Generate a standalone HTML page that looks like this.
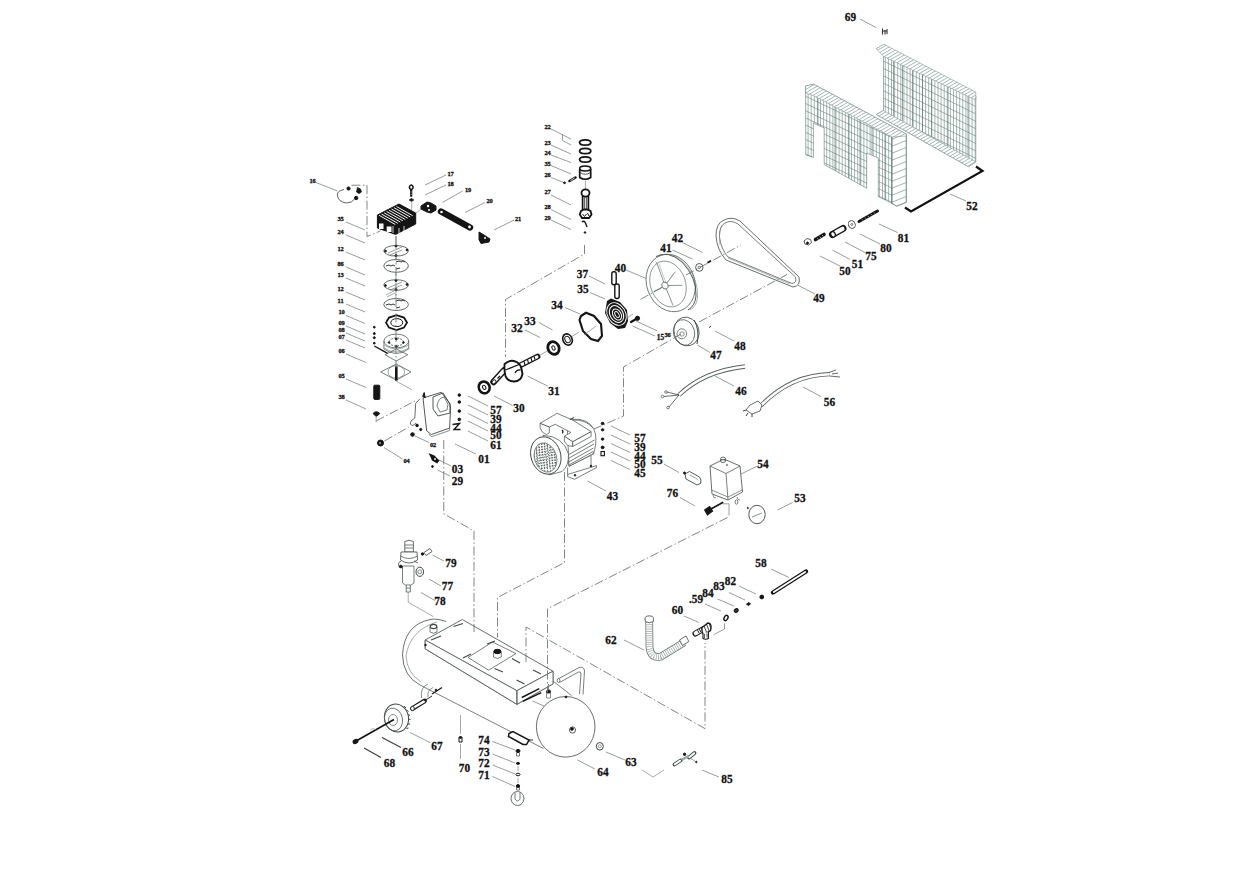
<!DOCTYPE html>
<html><head><meta charset="utf-8"><style>
html,body{margin:0;padding:0;background:#fff;}
svg{display:block;}
.lb{font-family:"Liberation Serif",serif;font-weight:bold;text-anchor:middle;dominant-baseline:central;fill:#111;stroke:#111;stroke-width:0.3;}
.ld{stroke:#8a948f;stroke-width:0.9;fill:none;}
.ds{stroke:#6f7a74;stroke-width:0.9;fill:none;stroke-dasharray:9 2.5 1.5 2.5;}
.ln{stroke:#3d4743;stroke-width:0.8;fill:none;}
.lt{stroke:#7e8a85;stroke-width:0.7;fill:none;}
.bk{fill:#161616;stroke:#161616;}
</style></head><body>
<svg width="1242" height="872" viewBox="0 0 1242 872">
<text transform="translate(850.5 17.2) scale(0.87 1)" font-size="13" class="lb">69</text>
<text transform="translate(972.0 206.2) scale(0.87 1)" font-size="13" class="lb">52</text>
<text transform="translate(903.5 237.7) scale(0.87 1)" font-size="13" class="lb">81</text>
<text transform="translate(886.0 247.7) scale(0.87 1)" font-size="13" class="lb">80</text>
<text transform="translate(871.0 256.2) scale(0.87 1)" font-size="13" class="lb">75</text>
<text transform="translate(857.5 264.2) scale(0.87 1)" font-size="13" class="lb">51</text>
<text transform="translate(845.0 270.7) scale(0.87 1)" font-size="13" class="lb">50</text>
<text transform="translate(819.0 298.2) scale(0.87 1)" font-size="13" class="lb">49</text>
<text transform="translate(740.0 345.7) scale(0.87 1)" font-size="13" class="lb">48</text>
<text transform="translate(716.0 355.2) scale(0.87 1)" font-size="13" class="lb">47</text>
<text transform="translate(677.5 238.2) scale(0.87 1)" font-size="13" class="lb">42</text>
<text transform="translate(666.0 247.7) scale(0.87 1)" font-size="13" class="lb">41</text>
<text transform="translate(620.5 267.7) scale(0.87 1)" font-size="13" class="lb">40</text>
<text transform="translate(582.5 274.2) scale(0.87 1)" font-size="13" class="lb">37</text>
<text transform="translate(583.0 289.2) scale(0.87 1)" font-size="13" class="lb">35</text>
<text transform="translate(557.0 304.7) scale(0.87 1)" font-size="13" class="lb">34</text>
<text transform="translate(530.0 320.7) scale(0.87 1)" font-size="13" class="lb">33</text>
<text transform="translate(517.0 327.7) scale(0.87 1)" font-size="13" class="lb">32</text>
<text transform="translate(554.0 391.2) scale(0.87 1)" font-size="13" class="lb">31</text>
<text transform="translate(519.0 408.2) scale(0.87 1)" font-size="13" class="lb">30</text>
<text transform="translate(741.0 391.2) scale(0.87 1)" font-size="13" class="lb">46</text>
<text transform="translate(829.5 402.2) scale(0.87 1)" font-size="13" class="lb">56</text>
<text transform="translate(640.0 438.2) scale(0.87 1)" font-size="13" class="lb">57</text>
<text transform="translate(640.0 447.2) scale(0.87 1)" font-size="13" class="lb">39</text>
<text transform="translate(640.0 455.7) scale(0.87 1)" font-size="13" class="lb">44</text>
<text transform="translate(640.0 464.2) scale(0.87 1)" font-size="13" class="lb">50</text>
<text transform="translate(640.0 472.7) scale(0.87 1)" font-size="13" class="lb">45</text>
<text transform="translate(657.0 460.2) scale(0.87 1)" font-size="13" class="lb">55</text>
<text transform="translate(763.0 464.2) scale(0.87 1)" font-size="13" class="lb">54</text>
<text transform="translate(672.5 492.7) scale(0.87 1)" font-size="13" class="lb">76</text>
<text transform="translate(800.0 498.2) scale(0.87 1)" font-size="13" class="lb">53</text>
<text transform="translate(612.5 495.7) scale(0.87 1)" font-size="13" class="lb">43</text>
<text transform="translate(496.0 410.2) scale(0.87 1)" font-size="13" class="lb">57</text>
<text transform="translate(496.0 419.2) scale(0.87 1)" font-size="13" class="lb">39</text>
<text transform="translate(496.0 427.7) scale(0.87 1)" font-size="13" class="lb">44</text>
<text transform="translate(496.0 435.2) scale(0.87 1)" font-size="13" class="lb">50</text>
<text transform="translate(496.0 445.2) scale(0.87 1)" font-size="13" class="lb">61</text>
<text transform="translate(484.0 459.2) scale(0.87 1)" font-size="13" class="lb">01</text>
<text transform="translate(457.5 469.2) scale(0.87 1)" font-size="13" class="lb">03</text>
<text transform="translate(457.5 480.7) scale(0.87 1)" font-size="13" class="lb">29</text>
<text transform="translate(451.0 562.7) scale(0.87 1)" font-size="13" class="lb">79</text>
<text transform="translate(447.5 586.2) scale(0.87 1)" font-size="13" class="lb">77</text>
<text transform="translate(440.0 600.7) scale(0.87 1)" font-size="13" class="lb">78</text>
<text transform="translate(761.0 563.2) scale(0.87 1)" font-size="13" class="lb">58</text>
<text transform="translate(730.5 580.7) scale(0.87 1)" font-size="13" class="lb">82</text>
<text transform="translate(719.0 586.2) scale(0.87 1)" font-size="13" class="lb">83</text>
<text transform="translate(708.0 593.2) scale(0.87 1)" font-size="13" class="lb">84</text>
<text transform="translate(696.0 599.2) scale(0.87 1)" font-size="13" class="lb">.59</text>
<text transform="translate(677.5 610.2) scale(0.87 1)" font-size="13" class="lb">60</text>
<text transform="translate(611.0 640.2) scale(0.87 1)" font-size="13" class="lb">62</text>
<text transform="translate(559.0 712.2) scale(0.87 1)" font-size="13" class="lb">65</text>
<text transform="translate(437.0 746.2) scale(0.87 1)" font-size="13" class="lb">67</text>
<text transform="translate(408.0 752.2) scale(0.87 1)" font-size="13" class="lb">66</text>
<text transform="translate(389.5 763.2) scale(0.87 1)" font-size="13" class="lb">68</text>
<text transform="translate(464.5 768.2) scale(0.87 1)" font-size="13" class="lb">70</text>
<text transform="translate(484.0 740.2) scale(0.87 1)" font-size="13" class="lb">74</text>
<text transform="translate(484.0 752.2) scale(0.87 1)" font-size="13" class="lb">73</text>
<text transform="translate(484.0 763.2) scale(0.87 1)" font-size="13" class="lb">72</text>
<text transform="translate(484.0 775.2) scale(0.87 1)" font-size="13" class="lb">71</text>
<text transform="translate(603.0 771.7) scale(0.87 1)" font-size="13" class="lb">64</text>
<text transform="translate(631.0 762.2) scale(0.87 1)" font-size="13" class="lb">63</text>
<text transform="translate(727.0 779.2) scale(0.87 1)" font-size="13" class="lb">85</text>
<text transform="translate(312.6 180.1) scale(0.92 1)" font-size="7" class="lb">16</text>
<text transform="translate(450.6 173.1) scale(0.92 1)" font-size="7" class="lb">17</text>
<text transform="translate(450.6 183.1) scale(0.92 1)" font-size="7" class="lb">18</text>
<text transform="translate(468.1 189.1) scale(0.92 1)" font-size="7" class="lb">19</text>
<text transform="translate(489.6 200.1) scale(0.92 1)" font-size="7" class="lb">20</text>
<text transform="translate(518.1 218.6) scale(0.92 1)" font-size="7" class="lb">21</text>
<text transform="translate(340.6 218.1) scale(0.92 1)" font-size="7" class="lb">35</text>
<text transform="translate(340.6 231.1) scale(0.92 1)" font-size="7" class="lb">24</text>
<text transform="translate(340.6 248.1) scale(0.92 1)" font-size="7" class="lb">12</text>
<text transform="translate(340.6 263.1) scale(0.92 1)" font-size="7" class="lb">86</text>
<text transform="translate(340.6 274.1) scale(0.92 1)" font-size="7" class="lb">13</text>
<text transform="translate(340.6 288.1) scale(0.92 1)" font-size="7" class="lb">12</text>
<text transform="translate(340.6 300.1) scale(0.92 1)" font-size="7" class="lb">11</text>
<text transform="translate(341.6 311.6) scale(0.92 1)" font-size="7" class="lb">10</text>
<text transform="translate(341.6 322.1) scale(0.92 1)" font-size="7" class="lb">09</text>
<text transform="translate(341.6 329.1) scale(0.92 1)" font-size="7" class="lb">08</text>
<text transform="translate(341.6 336.1) scale(0.92 1)" font-size="7" class="lb">07</text>
<text transform="translate(341.6 350.1) scale(0.92 1)" font-size="7" class="lb">06</text>
<text transform="translate(341.6 375.1) scale(0.92 1)" font-size="7" class="lb">05</text>
<text transform="translate(341.6 396.6) scale(0.92 1)" font-size="7" class="lb">38</text>
<text transform="translate(547.6 126.1) scale(0.92 1)" font-size="7" class="lb">22</text>
<text transform="translate(547.6 142.1) scale(0.92 1)" font-size="7" class="lb">23</text>
<text transform="translate(547.6 152.1) scale(0.92 1)" font-size="7" class="lb">24</text>
<text transform="translate(547.6 163.1) scale(0.92 1)" font-size="7" class="lb">35</text>
<text transform="translate(547.6 174.1) scale(0.92 1)" font-size="7" class="lb">26</text>
<text transform="translate(547.6 191.6) scale(0.92 1)" font-size="7" class="lb">27</text>
<text transform="translate(547.6 206.6) scale(0.92 1)" font-size="7" class="lb">28</text>
<text transform="translate(547.6 217.1) scale(0.92 1)" font-size="7" class="lb">29</text>
<text transform="translate(433.1 444.1) scale(0.92 1)" font-size="7" class="lb">02</text>
<text transform="translate(406.6 460.1) scale(0.92 1)" font-size="7" class="lb">04</text>
<text transform="translate(660.4 337.6) scale(0.92 1)" font-size="8" class="lb">15</text>
<text transform="translate(667.6 334.1) scale(0.92 1)" font-size="7" class="lb">36</text>
<path d="M316 182.5L337.5 191 M425 185L446 175 M425 195L446 185 M442.5 202.5L462.5 191 M465 212.5L485 202.5 M494 230L514 220 M551 129L571 139 M551 145L571 154 M551 155L571 162.5 M551 165.5L571 174 M551 177.5L564 182.5 M551 195L571 205 M551 209.5L571 219.5 M551 220L571 229.5 M682.5 242.5L702.5 252.5 M672.5 250L692.5 259 M626 270L647.5 279 M589 276L605 284 M590 292.5L605 299 M565 307.5L580 314 M797.5 285L815 294 M539 322.5L552.5 330 M525 330L540 337.5 M527.5 376L547.5 386 M494 396L512.5 405.5 M697.5 345L710 352.5 M715 331L734 341 M636 321L657.5 331 M632.5 326L655 336 M715 376L734 386 M664 464L679 472.5 M741 474L757.5 466 M680 497.5L695 506 M777.5 510L792.5 502.5 M587.5 481L606 491 M346 354L366 362.5 M346 379L366 387.5 M346 400L366 409 M415 436L429 442.5 M384 447.5L402.5 459 M439 460L451 466 M437.5 470L450 476 M476 454L455 444 M432.5 555L444 561 M429 579L441 586 M421 592.5L435 600.5 M532.5 701L551 709 M410 732.5L430 742.5 M492.5 741.5L515 750 M492.5 754L515 763 M492.5 765L515 774 M492.5 776.5L515 786.5 M577.5 760L595 769 M606 752L625 760 M702 770L719 777 M771 569L789 577.5 M739 586L756 594 M729 592.5L745 600 M717.5 599L734 606 M705 604L721 611 M684 616L699 622.5 M624 640L644 650 M860 19L876 27.5 M950 194L966 201 M803 387L821 396.5 M879 224L897.5 232.5 M860 234L880 244 M845 242L865 252.5 M832.5 250L850 259.5 M820 256L840 266 M346 222L365 230 M346 235L365 243 M346 252L365 260 M346 267L365 275 M346 278L365 286 M346 292L365 300 M346 304L365 312 M346 315.5L365 323.5 M346 326L365 334 M346 333L365 341 M346 340L365 348 M468 396L488 406 M468 405L488 415 M468 413.5L488 423.5 M468 421L488 431 M468 431L488 441 M611 426L630 435 M611 435L630 444 M611 443.5L630 452.5 M611 452L630 461 M611 460.5L630 469.5" class="ld"/>
<clipPath id="cb"><polygon points="883.5,50.6 975.8,96 975.8,161.8 968.5,166.7 876.3,114.5 883.5,110.6"/></clipPath>
<g clip-path="url(#cb)"><path d="M876.00 40V170M879.10 40V170M882.20 40V170M885.30 40V170M888.40 40V170M891.50 40V170M894.60 40V170M897.70 40V170M900.80 40V170M903.90 40V170M907.00 40V170M910.10 40V170M913.20 40V170M916.30 40V170M919.40 40V170M922.50 40V170M925.60 40V170M928.70 40V170M931.80 40V170M934.90 40V170M938.00 40V170M941.10 40V170M944.20 40V170M947.30 40V170M950.40 40V170M953.50 40V170M956.60 40V170M959.70 40V170M962.80 40V170M965.90 40V170M969.00 40V170M972.10 40V170M975.20 40V170M876 -16.60L976 32.60M876 -9.20L976 40.00M876 -1.80L976 47.40M876 5.60L976 54.80M876 13.00L976 62.20M876 20.40L976 69.60M876 27.80L976 77.00M876 35.20L976 84.40M876 42.60L976 91.80M876 50.00L976 99.20M876 57.40L976 106.60M876 64.80L976 114.00M876 72.20L976 121.40M876 79.60L976 128.80M876 87.00L976 136.20M876 94.40L976 143.60M876 101.80L976 151.00M876 109.20L976 158.40M876 116.60L976 165.80M876 124.00L976 173.20M876 131.40L976 180.60M876 138.80L976 188.00M876 146.20L976 195.40M876 153.60L976 202.80M876 161.00L976 210.20M876 168.40L976 217.60M876 175.80L976 225.00M876 183.20L976 232.40M876 190.60L976 239.80M876 198.00L976 247.20M876 205.40L976 254.60M876 212.80L976 262.00M876 220.20L976 269.40" stroke="#62807a" stroke-width="0.58" fill="none"/></g>
<polygon points="883.5,50.6 975.8,96 975.8,161.8 968.5,166.7 876.3,114.5 883.5,110.6" fill="none" stroke="#62807a" stroke-width="0.6"/>
<g clip-path="url(#cb)"><path d="M893.5 55.5V116.1M902.5 59.9V121.1M912.5 64.9V126.7M922.5 69.8V132.2M931.5 74.2V137.2M948 82.3V146.4M968 92.2V157.5" stroke="#587570" stroke-width="0.65" fill="none"/></g>
<polygon points="876.3,48.7 884,44.3 888,47 883.5,51" fill="none" stroke="#7d9691" stroke-width="0.5"/>
<clipPath id="cf"><polygon points="805.6,86 813.8,84.3 906.3,134 906.3,202.3 896.6,206.2 891.8,203.3 878.3,196.5 878.3,158 866.7,153 866.7,188.3 824.2,164.6 824.2,128 813.4,123 813.4,157.4 805.8,155"/></clipPath>
<g clip-path="url(#cf)"><path d="M805.00 80V210M808.10 80V210M811.20 80V210M814.30 80V210M817.40 80V210M820.50 80V210M823.60 80V210M826.70 80V210M829.80 80V210M832.90 80V210M836.00 80V210M839.10 80V210M842.20 80V210M845.30 80V210M848.40 80V210M851.50 80V210M854.60 80V210M857.70 80V210M860.80 80V210M863.90 80V210M867.00 80V210M870.10 80V210M873.20 80V210M876.30 80V210M879.40 80V210M882.50 80V210M885.60 80V210M888.70 80V210M891.80 80V210M805 31.21L892 72.80M805 38.41L892 80.00M805 45.61L892 87.20M805 52.81L892 94.40M805 60.01L892 101.60M805 67.21L892 108.80M805 74.41L892 116.00M805 81.61L892 123.20M805 88.81L892 130.40M805 96.01L892 137.60M805 103.21L892 144.80M805 110.41L892 152.00M805 117.61L892 159.20M805 124.81L892 166.40M805 132.01L892 173.60M805 139.21L892 180.80M805 146.41L892 188.00M805 153.61L892 195.20M805 160.81L892 202.40M805 168.01L892 209.60M805 175.21L892 216.80M805 182.41L892 224.00M805 189.61L892 231.20M805 196.81L892 238.40M805 204.01L892 245.60M805 211.21L892 252.80M805 218.41L892 260.00M805 225.61L892 267.20M805 232.81L892 274.40M805 240.01L892 281.60M805 247.21L892 288.80M805 254.41L892 296.00" stroke="#62807a" stroke-width="0.58" fill="none"/></g>
<polygon points="805.6,86 813.8,84.3 906.3,134 906.3,202.3 896.6,206.2 891.8,203.3 878.3,196.5 878.3,158 866.7,153 866.7,188.3 824.2,164.6 824.2,128 813.4,123 813.4,157.4 805.8,155" fill="none" stroke="#62807a" stroke-width="0.6"/>
<clipPath id="cs"><polygon points="891.8,135.7 906.3,134 906.3,202.3 896.6,206.2 891.8,203.3"/></clipPath>
<g clip-path="url(#cs)"><path d="M891.00 125V210M891 111.60L907 105.20M891 118.60L907 112.20M891 125.60L907 119.20M891 132.60L907 126.20M891 139.60L907 133.20M891 146.60L907 140.20M891 153.60L907 147.20M891 160.60L907 154.20M891 167.60L907 161.20M891 174.60L907 168.20M891 181.60L907 175.20M891 188.60L907 182.20M891 195.60L907 189.20M891 202.60L907 196.20M891 209.60L907 203.20M891 216.60L907 210.20" stroke="#62807a" stroke-width="0.6" fill="none"/></g>
<polygon points="891.8,135.7 906.3,134 906.3,202.3 896.6,206.2 891.8,203.3" fill="none" stroke="#62807a" stroke-width="0.6"/>
<g clip-path="url(#cf)"><path d="M818 91.9V205M835 100.1V205M849 106.7V205M860 112.0V205M872 117.7V205M885 124.0V205M891.8 127.2V205" stroke="#587570" stroke-width="0.65" fill="none"/></g>
<polygon points="805.6,86 813.8,84.3 906.3,134 906.3,136 891.8,137 813.4,95.5 805.6,93" fill="#fff"/><clipPath id="hb1"><polygon points="805.6,86 813.8,84.3 906.3,134 906.3,136 891.8,137 813.4,95.5 805.6,93"/></clipPath><g clip-path="url(#hb1)"><path d="M285.60 228.65l400.0 -236.0M291.40 228.65l400.0 -236.0M297.20 228.65l400.0 -236.0M303.00 228.65l400.0 -236.0M308.80 228.65l400.0 -236.0M314.60 228.65l400.0 -236.0M320.40 228.65l400.0 -236.0M326.20 228.65l400.0 -236.0M332.00 228.65l400.0 -236.0M337.80 228.65l400.0 -236.0M343.60 228.65l400.0 -236.0M349.40 228.65l400.0 -236.0M355.20 228.65l400.0 -236.0M361.00 228.65l400.0 -236.0M366.80 228.65l400.0 -236.0M372.60 228.65l400.0 -236.0M378.40 228.65l400.0 -236.0M384.20 228.65l400.0 -236.0M390.00 228.65l400.0 -236.0M395.80 228.65l400.0 -236.0M401.60 228.65l400.0 -236.0M407.40 228.65l400.0 -236.0M413.20 228.65l400.0 -236.0M419.00 228.65l400.0 -236.0M424.80 228.65l400.0 -236.0M430.60 228.65l400.0 -236.0M436.40 228.65l400.0 -236.0M442.20 228.65l400.0 -236.0M448.00 228.65l400.0 -236.0M453.80 228.65l400.0 -236.0M459.60 228.65l400.0 -236.0M465.40 228.65l400.0 -236.0M471.20 228.65l400.0 -236.0M477.00 228.65l400.0 -236.0M482.80 228.65l400.0 -236.0M488.60 228.65l400.0 -236.0M494.40 228.65l400.0 -236.0M500.20 228.65l400.0 -236.0M506.00 228.65l400.0 -236.0M511.80 228.65l400.0 -236.0M517.60 228.65l400.0 -236.0M523.40 228.65l400.0 -236.0M529.20 228.65l400.0 -236.0M535.00 228.65l400.0 -236.0M540.80 228.65l400.0 -236.0M546.60 228.65l400.0 -236.0M552.40 228.65l400.0 -236.0M558.20 228.65l400.0 -236.0M564.00 228.65l400.0 -236.0M569.80 228.65l400.0 -236.0M575.60 228.65l400.0 -236.0M581.40 228.65l400.0 -236.0M587.20 228.65l400.0 -236.0M593.00 228.65l400.0 -236.0M598.80 228.65l400.0 -236.0M604.60 228.65l400.0 -236.0M610.40 228.65l400.0 -236.0M616.20 228.65l400.0 -236.0M622.00 228.65l400.0 -236.0M627.80 228.65l400.0 -236.0M633.60 228.65l400.0 -236.0M639.40 228.65l400.0 -236.0M645.20 228.65l400.0 -236.0M651.00 228.65l400.0 -236.0M656.80 228.65l400.0 -236.0M662.60 228.65l400.0 -236.0M668.40 228.65l400.0 -236.0M674.20 228.65l400.0 -236.0M680.00 228.65l400.0 -236.0M685.80 228.65l400.0 -236.0M691.60 228.65l400.0 -236.0M697.40 228.65l400.0 -236.0M703.20 228.65l400.0 -236.0M709.00 228.65l400.0 -236.0M714.80 228.65l400.0 -236.0M720.60 228.65l400.0 -236.0M726.40 228.65l400.0 -236.0M732.20 228.65l400.0 -236.0M738.00 228.65l400.0 -236.0M743.80 228.65l400.0 -236.0M749.60 228.65l400.0 -236.0M755.40 228.65l400.0 -236.0M761.20 228.65l400.0 -236.0M767.00 228.65l400.0 -236.0M772.80 228.65l400.0 -236.0M778.60 228.65l400.0 -236.0M784.40 228.65l400.0 -236.0M790.20 228.65l400.0 -236.0M796.00 228.65l400.0 -236.0M801.80 228.65l400.0 -236.0M807.60 228.65l400.0 -236.0M813.40 228.65l400.0 -236.0M819.20 228.65l400.0 -236.0M825.00 228.65l400.0 -236.0M830.80 228.65l400.0 -236.0M836.60 228.65l400.0 -236.0M842.40 228.65l400.0 -236.0M848.20 228.65l400.0 -236.0M854.00 228.65l400.0 -236.0M859.80 228.65l400.0 -236.0M865.60 228.65l400.0 -236.0M871.40 228.65l400.0 -236.0M877.20 228.65l400.0 -236.0M883.00 228.65l400.0 -236.0M888.80 228.65l400.0 -236.0M894.60 228.65l400.0 -236.0M900.40 228.65l400.0 -236.0M906.20 228.65l400.0 -236.0M912.00 228.65l400.0 -236.0M917.80 228.65l400.0 -236.0M923.60 228.65l400.0 -236.0M929.40 228.65l400.0 -236.0M935.20 228.65l400.0 -236.0M941.00 228.65l400.0 -236.0M946.80 228.65l400.0 -236.0M952.60 228.65l400.0 -236.0M958.40 228.65l400.0 -236.0M964.20 228.65l400.0 -236.0M970.00 228.65l400.0 -236.0M975.80 228.65l400.0 -236.0M981.60 228.65l400.0 -236.0M987.40 228.65l400.0 -236.0M993.20 228.65l400.0 -236.0M999.00 228.65l400.0 -236.0M1004.80 228.65l400.0 -236.0M1010.60 228.65l400.0 -236.0M1016.40 228.65l400.0 -236.0M1022.20 228.65l400.0 -236.0" stroke="#6d8884" stroke-width="0.6" fill="none"/></g><polygon points="805.6,86 813.8,84.3 906.3,134 906.3,136 891.8,137 813.4,95.5 805.6,93" fill="none" stroke="#6d8884" stroke-width="0.5"/>
<polygon points="876.3,48.7 884,44.3 975.8,92 975.8,100 883.5,56.5" fill="#fff"/><clipPath id="hb2"><polygon points="876.3,48.7 884,44.3 975.8,92 975.8,100 883.5,56.5"/></clipPath><g clip-path="url(#hb2)"><path d="M356.30 190.15l400.0 -236.0M362.10 190.15l400.0 -236.0M367.90 190.15l400.0 -236.0M373.70 190.15l400.0 -236.0M379.50 190.15l400.0 -236.0M385.30 190.15l400.0 -236.0M391.10 190.15l400.0 -236.0M396.90 190.15l400.0 -236.0M402.70 190.15l400.0 -236.0M408.50 190.15l400.0 -236.0M414.30 190.15l400.0 -236.0M420.10 190.15l400.0 -236.0M425.90 190.15l400.0 -236.0M431.70 190.15l400.0 -236.0M437.50 190.15l400.0 -236.0M443.30 190.15l400.0 -236.0M449.10 190.15l400.0 -236.0M454.90 190.15l400.0 -236.0M460.70 190.15l400.0 -236.0M466.50 190.15l400.0 -236.0M472.30 190.15l400.0 -236.0M478.10 190.15l400.0 -236.0M483.90 190.15l400.0 -236.0M489.70 190.15l400.0 -236.0M495.50 190.15l400.0 -236.0M501.30 190.15l400.0 -236.0M507.10 190.15l400.0 -236.0M512.90 190.15l400.0 -236.0M518.70 190.15l400.0 -236.0M524.50 190.15l400.0 -236.0M530.30 190.15l400.0 -236.0M536.10 190.15l400.0 -236.0M541.90 190.15l400.0 -236.0M547.70 190.15l400.0 -236.0M553.50 190.15l400.0 -236.0M559.30 190.15l400.0 -236.0M565.10 190.15l400.0 -236.0M570.90 190.15l400.0 -236.0M576.70 190.15l400.0 -236.0M582.50 190.15l400.0 -236.0M588.30 190.15l400.0 -236.0M594.10 190.15l400.0 -236.0M599.90 190.15l400.0 -236.0M605.70 190.15l400.0 -236.0M611.50 190.15l400.0 -236.0M617.30 190.15l400.0 -236.0M623.10 190.15l400.0 -236.0M628.90 190.15l400.0 -236.0M634.70 190.15l400.0 -236.0M640.50 190.15l400.0 -236.0M646.30 190.15l400.0 -236.0M652.10 190.15l400.0 -236.0M657.90 190.15l400.0 -236.0M663.70 190.15l400.0 -236.0M669.50 190.15l400.0 -236.0M675.30 190.15l400.0 -236.0M681.10 190.15l400.0 -236.0M686.90 190.15l400.0 -236.0M692.70 190.15l400.0 -236.0M698.50 190.15l400.0 -236.0M704.30 190.15l400.0 -236.0M710.10 190.15l400.0 -236.0M715.90 190.15l400.0 -236.0M721.70 190.15l400.0 -236.0M727.50 190.15l400.0 -236.0M733.30 190.15l400.0 -236.0M739.10 190.15l400.0 -236.0M744.90 190.15l400.0 -236.0M750.70 190.15l400.0 -236.0M756.50 190.15l400.0 -236.0M762.30 190.15l400.0 -236.0M768.10 190.15l400.0 -236.0M773.90 190.15l400.0 -236.0M779.70 190.15l400.0 -236.0M785.50 190.15l400.0 -236.0M791.30 190.15l400.0 -236.0M797.10 190.15l400.0 -236.0M802.90 190.15l400.0 -236.0M808.70 190.15l400.0 -236.0M814.50 190.15l400.0 -236.0M820.30 190.15l400.0 -236.0M826.10 190.15l400.0 -236.0M831.90 190.15l400.0 -236.0M837.70 190.15l400.0 -236.0M843.50 190.15l400.0 -236.0M849.30 190.15l400.0 -236.0M855.10 190.15l400.0 -236.0M860.90 190.15l400.0 -236.0M866.70 190.15l400.0 -236.0M872.50 190.15l400.0 -236.0M878.30 190.15l400.0 -236.0M884.10 190.15l400.0 -236.0M889.90 190.15l400.0 -236.0M895.70 190.15l400.0 -236.0M901.50 190.15l400.0 -236.0M907.30 190.15l400.0 -236.0M913.10 190.15l400.0 -236.0M918.90 190.15l400.0 -236.0M924.70 190.15l400.0 -236.0M930.50 190.15l400.0 -236.0M936.30 190.15l400.0 -236.0M942.10 190.15l400.0 -236.0M947.90 190.15l400.0 -236.0M953.70 190.15l400.0 -236.0M959.50 190.15l400.0 -236.0M965.30 190.15l400.0 -236.0M971.10 190.15l400.0 -236.0M976.90 190.15l400.0 -236.0M982.70 190.15l400.0 -236.0M988.50 190.15l400.0 -236.0M994.30 190.15l400.0 -236.0M1000.10 190.15l400.0 -236.0M1005.90 190.15l400.0 -236.0M1011.70 190.15l400.0 -236.0M1017.50 190.15l400.0 -236.0M1023.30 190.15l400.0 -236.0M1029.10 190.15l400.0 -236.0M1034.90 190.15l400.0 -236.0M1040.70 190.15l400.0 -236.0M1046.50 190.15l400.0 -236.0M1052.30 190.15l400.0 -236.0M1058.10 190.15l400.0 -236.0M1063.90 190.15l400.0 -236.0M1069.70 190.15l400.0 -236.0M1075.50 190.15l400.0 -236.0M1081.30 190.15l400.0 -236.0M1087.10 190.15l400.0 -236.0M1092.90 190.15l400.0 -236.0" stroke="#6d8884" stroke-width="0.6" fill="none"/></g><polygon points="876.3,48.7 884,44.3 975.8,92 975.8,100 883.5,56.5" fill="none" stroke="#6d8884" stroke-width="0.5"/>
<polygon points="883.5,110.6 975.8,161.8 968.5,166.7 876.3,114.5" fill="#fff"/><clipPath id="hb3"><polygon points="883.5,110.6 975.8,161.8 968.5,166.7 876.3,114.5"/></clipPath><g clip-path="url(#hb3)"><path d="M356.30 256.65l400.0 -236.0M362.10 256.65l400.0 -236.0M367.90 256.65l400.0 -236.0M373.70 256.65l400.0 -236.0M379.50 256.65l400.0 -236.0M385.30 256.65l400.0 -236.0M391.10 256.65l400.0 -236.0M396.90 256.65l400.0 -236.0M402.70 256.65l400.0 -236.0M408.50 256.65l400.0 -236.0M414.30 256.65l400.0 -236.0M420.10 256.65l400.0 -236.0M425.90 256.65l400.0 -236.0M431.70 256.65l400.0 -236.0M437.50 256.65l400.0 -236.0M443.30 256.65l400.0 -236.0M449.10 256.65l400.0 -236.0M454.90 256.65l400.0 -236.0M460.70 256.65l400.0 -236.0M466.50 256.65l400.0 -236.0M472.30 256.65l400.0 -236.0M478.10 256.65l400.0 -236.0M483.90 256.65l400.0 -236.0M489.70 256.65l400.0 -236.0M495.50 256.65l400.0 -236.0M501.30 256.65l400.0 -236.0M507.10 256.65l400.0 -236.0M512.90 256.65l400.0 -236.0M518.70 256.65l400.0 -236.0M524.50 256.65l400.0 -236.0M530.30 256.65l400.0 -236.0M536.10 256.65l400.0 -236.0M541.90 256.65l400.0 -236.0M547.70 256.65l400.0 -236.0M553.50 256.65l400.0 -236.0M559.30 256.65l400.0 -236.0M565.10 256.65l400.0 -236.0M570.90 256.65l400.0 -236.0M576.70 256.65l400.0 -236.0M582.50 256.65l400.0 -236.0M588.30 256.65l400.0 -236.0M594.10 256.65l400.0 -236.0M599.90 256.65l400.0 -236.0M605.70 256.65l400.0 -236.0M611.50 256.65l400.0 -236.0M617.30 256.65l400.0 -236.0M623.10 256.65l400.0 -236.0M628.90 256.65l400.0 -236.0M634.70 256.65l400.0 -236.0M640.50 256.65l400.0 -236.0M646.30 256.65l400.0 -236.0M652.10 256.65l400.0 -236.0M657.90 256.65l400.0 -236.0M663.70 256.65l400.0 -236.0M669.50 256.65l400.0 -236.0M675.30 256.65l400.0 -236.0M681.10 256.65l400.0 -236.0M686.90 256.65l400.0 -236.0M692.70 256.65l400.0 -236.0M698.50 256.65l400.0 -236.0M704.30 256.65l400.0 -236.0M710.10 256.65l400.0 -236.0M715.90 256.65l400.0 -236.0M721.70 256.65l400.0 -236.0M727.50 256.65l400.0 -236.0M733.30 256.65l400.0 -236.0M739.10 256.65l400.0 -236.0M744.90 256.65l400.0 -236.0M750.70 256.65l400.0 -236.0M756.50 256.65l400.0 -236.0M762.30 256.65l400.0 -236.0M768.10 256.65l400.0 -236.0M773.90 256.65l400.0 -236.0M779.70 256.65l400.0 -236.0M785.50 256.65l400.0 -236.0M791.30 256.65l400.0 -236.0M797.10 256.65l400.0 -236.0M802.90 256.65l400.0 -236.0M808.70 256.65l400.0 -236.0M814.50 256.65l400.0 -236.0M820.30 256.65l400.0 -236.0M826.10 256.65l400.0 -236.0M831.90 256.65l400.0 -236.0M837.70 256.65l400.0 -236.0M843.50 256.65l400.0 -236.0M849.30 256.65l400.0 -236.0M855.10 256.65l400.0 -236.0M860.90 256.65l400.0 -236.0M866.70 256.65l400.0 -236.0M872.50 256.65l400.0 -236.0M878.30 256.65l400.0 -236.0M884.10 256.65l400.0 -236.0M889.90 256.65l400.0 -236.0M895.70 256.65l400.0 -236.0M901.50 256.65l400.0 -236.0M907.30 256.65l400.0 -236.0M913.10 256.65l400.0 -236.0M918.90 256.65l400.0 -236.0M924.70 256.65l400.0 -236.0M930.50 256.65l400.0 -236.0M936.30 256.65l400.0 -236.0M942.10 256.65l400.0 -236.0M947.90 256.65l400.0 -236.0M953.70 256.65l400.0 -236.0M959.50 256.65l400.0 -236.0M965.30 256.65l400.0 -236.0M971.10 256.65l400.0 -236.0M976.90 256.65l400.0 -236.0M982.70 256.65l400.0 -236.0M988.50 256.65l400.0 -236.0M994.30 256.65l400.0 -236.0M1000.10 256.65l400.0 -236.0M1005.90 256.65l400.0 -236.0M1011.70 256.65l400.0 -236.0M1017.50 256.65l400.0 -236.0M1023.30 256.65l400.0 -236.0M1029.10 256.65l400.0 -236.0M1034.90 256.65l400.0 -236.0M1040.70 256.65l400.0 -236.0M1046.50 256.65l400.0 -236.0M1052.30 256.65l400.0 -236.0M1058.10 256.65l400.0 -236.0M1063.90 256.65l400.0 -236.0M1069.70 256.65l400.0 -236.0M1075.50 256.65l400.0 -236.0M1081.30 256.65l400.0 -236.0M1087.10 256.65l400.0 -236.0M1092.90 256.65l400.0 -236.0" stroke="#6d8884" stroke-width="0.6" fill="none"/></g><polygon points="883.5,110.6 975.8,161.8 968.5,166.7 876.3,114.5" fill="none" stroke="#6d8884" stroke-width="0.5"/>
<polyline points="905,207.5 911,211.5 982.5,171 976,166.5" fill="none" stroke="#111" stroke-width="2.2"/>
<path d="M882.5 28.5v6 M885 30v4.5 M887 29v5 M882.5 31h5" stroke="#333" stroke-width="1.1"/>
<path d="M344 189.5 Q337 191 337.3 195 Q338 202 346.5 203 Q352 203 354.6 199" fill="none" stroke="#4a5550" stroke-width="0.9"/>
<circle cx="348.5" cy="188.5" r="1.6" class="bk"/>
<path d="M357.5 187.5 l3 1.5 l1 3 l-2.5 1.5 l-2.5-1.5z" class="bk" stroke-width="0.8"/>
<circle cx="356.2" cy="198" r="1.7" class="bk"/>
<path d="M377.4 215 L399 204 L415.7 213 L415.7 224 L395.6 234.4 L377.4 228 Z" fill="#141414" stroke="#141414" stroke-width="1"/>
<path d="M379.1 215.3 l16.2 9.2 M381.6 214.1 l16.2 9.2 M384.1 212.8 l16.2 9.2 M386.6 211.5 l16.2 9.2 M389.1 210.3 l16.2 9.2 M391.5 209.0 l16.2 9.2 M394.0 207.7 l16.2 9.2 M396.5 206.5 l16.2 9.2" stroke="#fff" stroke-width="0.95" fill="none"/>
<path d="M379 223.5h4.5v5.5h-4.5z M386.7 226.4h4.8v5.6h-4.8z" fill="#fff"/>
<path d="M393 226 v7 M399 228 v6 M404 226 v6" stroke="#fff" stroke-width="0.8"/>
<path d="M411.2 196.5 V189 M409.5 186.5 Q411.2 183.5 413 186.5 Q413.5 189 411.2 189.5 Q409 189 409.5 186.5 Z" fill="#fff" stroke="#141414" stroke-width="1.5"/><path d="M411.2 190 V196.5" stroke="#141414" stroke-width="2.2"/><path d="M410.5 192 h1.4 M410.5 194.5 h1.4" stroke="#fff" stroke-width="0.5"/>
<path d="M409.3 200 l2.2-1.5 l2.2 1.5 l-2.2 1.3z" class="bk"/>
<path d="M411.7 201 V210" class="lt"/>
<path d="M421 206 l6-4 l4 1 l5 3 l0 4 l-5 3 l-4 -1 l-6 -3z" class="bk"/>
<circle cx="428" cy="206" r="1.2" fill="#fff"/><circle cx="429" cy="210" r="1" fill="#fff"/>
<path d="M441 211.5 L470 227.5" stroke="#141414" stroke-width="6.4" stroke-linecap="round"/>
<circle cx="441.5" cy="212" r="1.3" fill="#fff"/><circle cx="469.5" cy="227" r="1.4" fill="#fff"/>
<path d="M479 232 l5 3 l6 4 l-1 3 l-8 1.5 l-2-4z" class="bk"/>
<circle cx="485" cy="238" r="1" fill="#fff"/>
<path d="M416 213 L421 209" class="lt"/>
<ellipse cx="396.1" cy="250.8" rx="12.3" ry="5.3" fill="none" stroke="#3d4743" stroke-width="0.8"/>
<ellipse cx="396.1" cy="265.9" rx="12.3" ry="6.4" fill="none" stroke="#3d4743" stroke-width="0.8"/>
<ellipse cx="396.1" cy="285" rx="12.3" ry="5.3" fill="none" stroke="#3d4743" stroke-width="0.8"/>
<ellipse cx="396.1" cy="304.5" rx="12.3" ry="6" fill="none" stroke="#3d4743" stroke-width="0.8"/>
<path d="M388 253 l14-6 M390 255 l12-5" stroke="#56605b" stroke-width="0.6"/>
<path d="M386 266 l3-1 l2 1 l2-1 l2 1 M396 262 l3-1 l2 1 l2-1 l2 1 M396 269 l4-1" stroke="#1c1c1c" stroke-width="0.9" fill="none"/>
<path d="M388 288 l14-6 M390 290 l12-5" stroke="#56605b" stroke-width="0.6"/>
<path d="M386 305 l3-1 l2 1 l2-1 l2 1 M396 301 l3-1 l2 1 l2-1 l2 1 M396 308 l4-1" stroke="#1c1c1c" stroke-width="0.9" fill="none"/>
<path d="M386 295 l8-4 M387 297 l8-4" stroke="#6a7570" stroke-width="0.6"/>
<circle cx="396" cy="246" r="1" class="bk"/><circle cx="396" cy="255.5" r="1" class="bk"/><circle cx="407" cy="250" r="0.9" class="bk"/><circle cx="385.5" cy="251" r="0.9" class="bk"/>
<circle cx="396" cy="280.5" r="1" class="bk"/><circle cx="396" cy="289.5" r="1" class="bk"/><circle cx="407" cy="284.5" r="0.9" class="bk"/><circle cx="385.5" cy="285.5" r="0.9" class="bk"/>
<path d="M395.9 236 V246 M395.9 257 V260 M395.9 272 V280 M395.9 291 V298" class="lt"/>
<path d="M386 322.6 l3-5 l7.5-2.5 l7.5 2.5 l3 5 l-3 5 l-7.5 2.5 l-7.5-2.5z" fill="none" stroke="#141414" stroke-width="1.8"/>
<ellipse cx="396.8" cy="322.6" rx="6" ry="4" fill="none" stroke="#141414" stroke-width="1"/>
<circle cx="374.3" cy="327.2" r="0.9" class="bk"/><circle cx="374.3" cy="333.6" r="1" class="bk"/><circle cx="374.3" cy="337.7" r="1" class="bk"/><circle cx="374.3" cy="343.2" r="0.9" class="bk"/>
<path d="M374.3 346 L387.6 353.3" stroke="#141414" stroke-width="1.4"/>
<ellipse cx="396.3" cy="341" rx="12.4" ry="6.9" fill="none" stroke="#56605b" stroke-width="0.8"/>
<ellipse cx="396.3" cy="342" rx="7" ry="4" fill="none" stroke="#3d4743" stroke-width="0.8" stroke-dasharray="2 1"/>
<path d="M383.9 341 V349 Q396.3 358 408.7 349 V341" fill="none" stroke="#56605b" stroke-width="0.8"/>
<path d="M384 345 Q396.3 353 408.7 345 M384 348 Q396.3 356 408.7 348" fill="none" stroke="#6f7a74" stroke-width="0.6"/>
<path d="M384.9 354.7 L396.3 349 L407.8 354.7 L396.3 361 Z" fill="none" stroke="#56605b" stroke-width="0.8"/>
<circle cx="396.3" cy="339" r="0.9" class="bk"/><circle cx="396.3" cy="346.5" r="0.9" class="bk"/><circle cx="389" cy="342.5" r="0.8" class="bk"/><circle cx="403.5" cy="342.5" r="0.8" class="bk"/>
<path d="M380.7 371.9 L396.3 364.1 L411 371.9 L396.3 380.2 Z" fill="none" stroke="#56605b" stroke-width="0.8"/>
<ellipse cx="396.3" cy="371.9" rx="8.3" ry="6.2" fill="none" stroke="#6f7a74" stroke-width="0.7"/>
<path d="M396.3 366.4 V380.6" stroke="#141414" stroke-width="2.6"/>
<rect x="373.8" y="385.2" width="6" height="14.2" rx="1" class="bk"/>
<path d="M373 413.5 Q376.3 410 379.8 413.5 L376.3 416.5 Z" class="bk"/>
<path d="M376.1 416 V422.4" class="lt"/>
<path d="M423 398 L441.4 392.3 L449.6 403.3 L450.6 408 L449.6 428.1 L431.3 434.5 L426.7 430.9 Z" fill="none" stroke="#3d4743" stroke-width="0.9"/>
<path d="M433 397 L443 393 L450 404 L450 413 L438 416 L433 409 Z" fill="none" stroke="#3d4743" stroke-width="0.9"/>
<path d="M437 406 Q438 398 444 397 L448 404 L447 410 L440 412 Z" fill="none" stroke="#56605b" stroke-width="0.8"/>
<path d="M422.6 396.5 l1.6-4 l1 5 z" class="bk"/>
<path d="M420 398.8 L415.7 403.3 L414.8 418 L411 421 Q409 425 413 425.5 L416 423" fill="none" stroke="#3d4743" stroke-width="0.8"/>
<path d="M429 434 L431.3 436.8 L449.6 430.5 L449.6 428.1" fill="none" stroke="#56605b" stroke-width="0.7"/>
<circle cx="417" cy="425.4" r="1.3" class="bk"/><circle cx="420.7" cy="429.5" r="1.1" class="bk"/><circle cx="412.5" cy="434.5" r="1.8" class="bk"/>
<path d="M452.5 424.5 l7-1 l-5.5 6 l6.5 0" fill="none" stroke="#141414" stroke-width="1.4"/>
<circle cx="459.3" cy="395.1" r="1.3" class="bk"/>
<circle cx="459.3" cy="402" r="1.3" class="bk"/>
<circle cx="459.3" cy="411.1" r="1.3" class="bk"/>
<circle cx="459.3" cy="419.4" r="1.3" class="bk"/>
<path d="M430 454.5 l4 1.5 l4.5 4.5 l-1.5 2 l-4.5-2.5 l-1-2.5 z" fill="#141414" stroke="#141414" stroke-width="1.4"/><circle cx="435" cy="459" r="0.9" fill="#fff"/>
<circle cx="432.5" cy="466.5" r="0.9" class="bk"/>
<path d="M396 381 L412 389.8" class="lt"/>
<circle cx="380.5" cy="443" r="3" class="bk"/><circle cx="380" cy="443" r="0.8" fill="#fff"/>
<path d="M384.5 441 L408.6 427.2" class="ds"/>
<ellipse cx="585.2" cy="142.5" rx="5.6" ry="2.7" fill="none" stroke="#141414" stroke-width="1.8"/>
<ellipse cx="585.2" cy="151" rx="5.6" ry="2.7" fill="none" stroke="#141414" stroke-width="1.8"/>
<ellipse cx="585.2" cy="159.5" rx="5.6" ry="2.7" fill="none" stroke="#141414" stroke-width="1.8"/>
<path d="M579.7 169 V177.5 Q585.2 181 590.7 177.5 V169" fill="#fff" stroke="#141414" stroke-width="1.7"/>
<ellipse cx="585.2" cy="168.5" rx="5.5" ry="2.5" fill="#fff" stroke="#141414" stroke-width="1.6"/>
<path d="M580 172.5 Q585.2 176 590.5 172.5" fill="none" stroke="#141414" stroke-width="0.7"/>
<path d="M569.5 181 L575.5 177.5" stroke="#141414" stroke-width="2.6" stroke-linecap="round"/><path d="M570.5 180.5 L574.5 178" stroke="#fff" stroke-width="0.8"/>
<circle cx="564.5" cy="182.8" r="0.9" class="bk"/>
<path d="M585.4 180.5 V189" stroke="#8a948f" stroke-width="0.8"/>
<path d="M582.6 196 V210 M588.4 196 V210" stroke="#141414" stroke-width="1.7"/>
<path d="M584.6 197 V209 M586.4 197 V209" stroke="#141414" stroke-width="0.7"/>
<ellipse cx="585.5" cy="193" rx="4" ry="3.7" fill="#fff" stroke="#141414" stroke-width="1.8"/>
<path d="M581 211 L584 209.5 L587 209.5 L590.5 211 L591.5 214.5 L589 218 L582 218 L579.8 214.5 Z" fill="#fff" stroke="#141414" stroke-width="1.8"/>
<path d="M582.5 214 l2 2.5 l2-2.5 M587.5 213 l1.5 3" stroke="#141414" stroke-width="1" fill="none"/>
<path d="M582 222 q2-2 3.5 1 l1.5 4" stroke="#141414" stroke-width="1.4" fill="none"/>
<circle cx="585" cy="232.5" r="0.8" class="bk"/>
<path d="M562.5 134 V140.5 L571 145" class="ld"/>
<ellipse cx="484.2" cy="387.4" rx="5.4" ry="6" transform="rotate(-25 484.2 387.4)" fill="#fff" stroke="#141414" stroke-width="2.6"/>
<ellipse cx="484.2" cy="387.4" rx="1.5" ry="2.2" transform="rotate(-25 484.2 387.4)" fill="#fff" stroke="#141414" stroke-width="1"/>
<path d="M519 366 L537.6 356.5" stroke="#141414" stroke-width="5.6" stroke-linecap="round"/>
<path d="M519.5 365.7 L537 356.8" stroke="#fff" stroke-width="3" stroke-linecap="round"/>
<path d="M524 361.5 l1 3.5 M527.5 359.7 l1 3.5 M531 358 l1 3.5 M534 356.5 l1 3" stroke="#141414" stroke-width="1.1"/>
<path d="M493.5 382 L504 370.5" stroke="#141414" stroke-width="6.4" stroke-linecap="round"/>
<path d="M494 381.5 L503.5 371" stroke="#fff" stroke-width="3.6" stroke-linecap="round"/>
<ellipse cx="494" cy="381.8" rx="1.6" ry="2.3" transform="rotate(40 494 381.8)" fill="#fff" stroke="#141414" stroke-width="0.9"/>
<path d="M497.5 378.5 l2.5-2.5" stroke="#141414" stroke-width="1.2"/>
<path d="M504.6 364 Q511 358.5 517.5 362.5 Q521 365 521.5 369 L522.5 374 Q521 381.5 514 381.5 Q507.5 381.5 505.5 376 Q504 370 504.6 364 Z" fill="#fff" stroke="#141414" stroke-width="1.9"/>
<path d="M505.5 370 L519 364.5 M515 373 Q517 369 520.5 370" fill="none" stroke="#141414" stroke-width="1.3"/>
<path d="M539.7 355.3 L547 351.2" class="lt"/>
<ellipse cx="553.5" cy="348" rx="5.5" ry="6.5" transform="rotate(-25 553.5 348)" fill="#fff" stroke="#141414" stroke-width="2.8"/>
<ellipse cx="553.5" cy="348" rx="1.4" ry="2.3" transform="rotate(-25 553.5 348)" fill="#fff" stroke="#141414" stroke-width="1"/>
<ellipse cx="567.5" cy="339.5" rx="4.6" ry="5.8" transform="rotate(-25 567.5 339.5)" fill="#fff" stroke="#141414" stroke-width="1.6"/>
<ellipse cx="567.5" cy="339.5" rx="2.5" ry="3.4" transform="rotate(-25 567.5 339.5)" fill="none" stroke="#141414" stroke-width="1"/>
<path d="M572 336.5 L579 332" class="lt"/>
<path d="M581 316 L586 312.8 L594 316 L601 324 L602 336 L598 341 L591 339 L583 331 L579.5 320 Z" fill="none" stroke="#141414" stroke-width="2.1"/>
<path d="M584 335 L596 326" class="lt"/>
<path d="M607 301 L611 298.5 L620 302 L627 310 L628 321 L625 328 L618 329 L610 323 L605 313 Z" fill="#161616"/>
<ellipse cx="616.5" cy="314" rx="9" ry="12" transform="rotate(-30 616.5 314)" fill="none" stroke="#fff" stroke-width="0.9"/>
<ellipse cx="616.5" cy="314" rx="6.5" ry="9" transform="rotate(-30 616.5 314)" fill="none" stroke="#fff" stroke-width="1.1"/>
<ellipse cx="617" cy="314.5" rx="4" ry="6" transform="rotate(-30 617 314.5)" fill="none" stroke="#fff" stroke-width="1"/>
<ellipse cx="617" cy="314.5" rx="1.8" ry="3.3" transform="rotate(-30 617 314.5)" fill="none" stroke="#fff" stroke-width="0.9"/>
<path d="M627 318 L633 314" class="lt"/>
<rect x="611.8" y="271.8" width="4.4" height="13" rx="2" fill="#fff" stroke="#141414" stroke-width="1.4"/>
<rect x="614.8" y="284" width="4.4" height="14.5" rx="2" fill="#fff" stroke="#141414" stroke-width="1.4"/>
<path d="M631 322 L637 318.5" stroke="#141414" stroke-width="2.2" stroke-linecap="round"/><circle cx="637.5" cy="318.3" r="2.1" class="bk"/>
<circle cx="637" cy="319.3" r="0" />
<ellipse cx="670.7" cy="283" rx="24" ry="29.3" transform="rotate(-20 670.7 283)" fill="#fff" stroke="#5f6b66" stroke-width="0.8"/>
<path d="M656 256.5 Q668 250 682 262 Q697 278 696 296 Q695 306 688 310" fill="none" stroke="#3d4743" stroke-width="0.9"/>
<path d="M660 255 Q673 251 686 265 Q699 281 697.5 298 Q696 307 690 310" fill="none" stroke="#6f7a74" stroke-width="0.6"/>
<ellipse cx="668" cy="284" rx="17.5" ry="23.5" transform="rotate(-20 668 284)" fill="none" stroke="#6f7a74" stroke-width="0.7"/>
<path d="M665 285.6 L656.5 262 M665 285.6 L675.3 271.7 M665 285.6 L682.5 285.3 M665 285.6 L673 305.4 M665 285.6 L653.6 291.7" stroke="#7e8a85" stroke-width="0.9"/>
<path d="M659 264 L666 283 M673 274 L667 283" stroke="#9aa39f" stroke-width="0.6"/>
<ellipse cx="665" cy="285.6" rx="3" ry="3.5" transform="rotate(-20 665 285.6)" fill="#fff" stroke="#56605b" stroke-width="0.8"/>
<path d="M640.5 299.4 L663 287" class="ds"/>
<path d="M686 275 L741 245" class="ds"/>
<ellipse cx="699.3" cy="267.4" rx="3.7" ry="3.9" fill="none" stroke="#3d4743" stroke-width="0.9"/><circle cx="699.3" cy="267.4" r="1.2" fill="none" stroke="#3d4743" stroke-width="0.7"/>
<path d="M707.5 262.8 L711 260.8" stroke="#141414" stroke-width="1.8"/>
<ellipse cx="686.5" cy="331.5" rx="12.5" ry="14.5" transform="rotate(-15 686.5 331.5)" fill="#fff" stroke="#56605b" stroke-width="0.9"/>
<ellipse cx="684" cy="332.5" rx="10.5" ry="13" transform="rotate(-15 684 332.5)" fill="none" stroke="#56605b" stroke-width="0.8"/>
<path d="M694 320 Q700 330 697 344" fill="none" stroke="#3d4743" stroke-width="1"/>
<ellipse cx="681.8" cy="333.8" rx="4.8" ry="5" fill="none" stroke="#56605b" stroke-width="0.8"/><circle cx="682" cy="334" r="2.2" fill="none" stroke="#56605b" stroke-width="0.7"/>
<path d="M709 327.5 L711 326.3" stroke="#3d4743" stroke-width="1"/>
<path d="M724 220 Q716 223 716 236 Q717 250 726 260 L793 287 Q801 286 799 277 L740 221 Q732 216 724 220 Z" fill="none" stroke="#56605b" stroke-width="0.9"/>
<path d="M725 223 Q719 226 719.5 237 Q721 249 728 257 L792 283.5 Q797 283 795.5 277 L738 224 Q731 219.5 725 223 Z" fill="none" stroke="#56605b" stroke-width="0.8"/>
<path d="M722 226 Q718 233 720 245 M728 258 L790 284" fill="none" stroke="#7e8a85" stroke-width="0.6"/>
<path d="M804 241 l3-2.5 l3.5 1 l1 3 l-3 2.5 l-3.5-1z" fill="none" stroke="#3d4743" stroke-width="0.9"/><circle cx="807.5" cy="243" r="1" class="bk"/>
<path d="M815.5 239.5 L824 234.5" stroke="#141414" stroke-width="3.6" stroke-linecap="round"/><path d="M817 238 l1.5 1.5 M819.5 236.5 l1.5 1.5 M822 235 l1.5 1.5" stroke="#fff" stroke-width="0.6"/>
<path d="M832.5 234.5 L843 228.5" stroke="#141414" stroke-width="7" stroke-linecap="round"/><path d="M833 234.2 L842.5 228.8" stroke="#fff" stroke-width="4.2" stroke-linecap="round"/>
<ellipse cx="833" cy="234.3" rx="2.2" ry="2.8" transform="rotate(-30 833 234.3)" fill="#fff" stroke="#141414" stroke-width="1.3"/>
<ellipse cx="851.8" cy="224.5" rx="3.3" ry="4" transform="rotate(-30 851.8 224.5)" fill="none" stroke="#3d4743" stroke-width="0.9"/><circle cx="851.8" cy="224.5" r="1" fill="none" stroke="#3d4743" stroke-width="0.7"/>
<path d="M859 221.5 L877.5 211" stroke="#141414" stroke-width="3" stroke-linecap="round"/><path d="M862 219.2 l0.8 1.2 M865 217.5 l0.8 1.2 M868 215.8 l0.8 1.2 M871 214.1 l0.8 1.2 M874 212.4 l0.8 1.2" stroke="#fff" stroke-width="0.5"/>
<path d="M567.6 474.5 L596.5 465.6 L596.5 467.6 L574.5 479.3 L567.6 476.5 Z" fill="#fff" stroke="#56605b" stroke-width="0.8"/>
<path d="M567.6 467.6 V474.5 M591 456 V465.6" fill="none" stroke="#56605b" stroke-width="0.8"/>
<circle cx="575" cy="475.3" r="0.8" class="bk"/><circle cx="591" cy="466" r="0.8" class="bk"/>
<path d="M567.6 451.8 L593.8 436 L593.8 453.9 L569 466.3 Z" fill="#fff" stroke="#56605b" stroke-width="0.8"/>
<path d="M568 455 L594 440 M568.3 458.5 L594 443.5 M568.6 462 L594 447 M569 465 L594 450.5" stroke="#56605b" stroke-width="0.8"/>
<path d="M567 421 Q573 418.5 580 419.5 Q593 422 595.5 434 Q597 446 592.9 454 L569 466.3 Z" fill="#fff" stroke="#56605b" stroke-width="0.8"/>
<path d="M568 455 L594.5 440 M568.3 458.5 L594 444 M568.6 462 L593.5 448 M569 465 L593 451.5" stroke="#56605b" stroke-width="0.8"/>
<path d="M543 435.3 Q563 436 568.5 453.9 Q569 466 562 471.5 L549 475 Z" fill="#fff" stroke="#56605b" stroke-width="0.8"/>
<ellipse cx="545.8" cy="455.5" rx="14.8" ry="19" transform="rotate(-18 545.8 455.5)" fill="#fff" stroke="#3d4743" stroke-width="0.9"/>
<ellipse cx="545.5" cy="457.5" rx="11" ry="15" transform="rotate(-18 545.5 457.5)" fill="none" stroke="#56605b" stroke-width="0.7"/>
<clipPath id="fan"><ellipse cx="545.5" cy="457.5" rx="10.7" ry="14.7" transform="rotate(-18 545.5 457.5)"/></clipPath>
<g clip-path="url(#fan)"><path d="M528 442.0 L562 434.0M528 444.7 L562 436.7M528 447.4 L562 439.4M528 450.1 L562 442.1M528 452.8 L562 444.8M528 455.5 L562 447.5M528 458.2 L562 450.2M528 460.9 L562 452.9M528 463.6 L562 455.6M528 466.3 L562 458.3M528 469.0 L562 461.0M528 471.7 L562 463.7M532.0 438 L537.0 478M534.9 438 L539.9 478M537.8 438 L542.8 478M540.7 438 L545.7 478M543.6 438 L548.6 478M546.5 438 L551.5 478M549.4 438 L554.4 478M552.3 438 L557.3 478M555.2 438 L560.2 478" stroke="#4b5752" stroke-width="0.9" stroke-dasharray="1.6 1.1"/></g>
<path d="M557.1 413.3 L540.1 423.3 L540.1 428 Q541.5 433 546.5 434.5 L549.3 433 L549.3 427 L555.3 424.3 L570.9 432.5 L564.4 436.2 L564.4 441 Q566 446 572.7 446.5 L591.1 436.5 L591.1 431.6 L572.7 420.1 Z" fill="#fff" stroke="#56605b" stroke-width="0.8"/>
<path d="M540.1 423.3 L549.3 427 M564.4 436.2 L572.7 441.7 L591.1 431.6 M572.7 441.7 V446.5" fill="none" stroke="#3d4743" stroke-width="0.9"/>
<path d="M572.7 420.1 Q585 419 593 428" fill="none" stroke="#56605b" stroke-width="0.8"/>
<path d="M562 430 q1.8 1.2 0.3 3.5" stroke="#141414" stroke-width="1.1" fill="none"/>
<path d="M570 419.5 L574 417.5" stroke="#3d4743" stroke-width="1.2"/>
<ellipse cx="602.6" cy="423.5" rx="1.4" ry="1.2" class="bk"/>
<ellipse cx="602.6" cy="429.8" rx="1.3" ry="1.1" class="bk"/>
<ellipse cx="602.6" cy="439.1" rx="1.3" ry="1.1" class="bk"/>
<ellipse cx="602.6" cy="447.4" rx="1.5" ry="1.3" class="bk"/>
<rect x="601" y="451.5" width="3.4" height="4.2" fill="#fff" stroke="#141414" stroke-width="1.1"/>
<path d="M710 466 L724 459 L740 466 L742.5 492 L728 500 L712 494 Z" fill="#fff" stroke="#56605b" stroke-width="0.9"/>
<path d="M710 466 L726 473.5 L740 466 M726 473.5 L728 500" fill="none" stroke="#56605b" stroke-width="0.8"/>
<path d="M711.5 490 L728 497 L742 490" fill="none" stroke="#56605b" stroke-width="0.7"/>
<ellipse cx="723" cy="461" rx="2.4" ry="1.5" fill="#fff" stroke="#3d4743" stroke-width="0.8"/><path d="M720.6 461 v-2.5 M725.4 461 v-2.5" stroke="#3d4743" stroke-width="0.7"/><ellipse cx="723" cy="458.5" rx="2.4" ry="1.3" fill="#fff" stroke="#3d4743" stroke-width="0.8"/>
<circle cx="727" cy="465" r="0.8" fill="none" stroke="#3d4743" stroke-width="0.6"/>
<path d="M713 495 q0 3 3 3 M737 497 q0 3 3 3" fill="none" stroke="#56605b" stroke-width="0.7"/>
<ellipse cx="736.5" cy="502" rx="1.4" ry="2.2" fill="none" stroke="#3d4743" stroke-width="0.7"/>
<path d="M685 474 L689.5 471.5 L699.5 477 Q702 480 700.5 483.5 L697 485 L686 479 Z" fill="#fff" stroke="#3d4743" stroke-width="0.9"/><path d="M690 475 l8 4.5" stroke="#56605b" stroke-width="0.6"/>
<circle cx="684.5" cy="473" r="1" class="bk"/>
<path d="M710 509.5 L723.2 502.3" stroke="#141414" stroke-width="1.7"/>
<path d="M705.2 510 L709.5 507.2 L712 511 L707.6 514.2 Z" class="bk" stroke-width="2"/>
<path d="M722.5 503.8 L729 503.8 L729 515.4" fill="none" stroke="#7e8a85" stroke-width="0.8"/>
<ellipse cx="757" cy="514.5" rx="8.2" ry="9.2" fill="#fff" stroke="#3d4743" stroke-width="0.9"/>
<path d="M752 517 L762 513" stroke="#3d4743" stroke-width="0.6"/>
<path d="M749.5 508 l-2.5-1.5 l0 3z" fill="#3d4743"/>
<path d="M679 395 Q704 371 745 366.5" fill="none" stroke="#56605b" stroke-width="4.4" stroke-linecap="butt"/>
<path d="M679 395 Q704 371 745 366.5" fill="none" stroke="#fff" stroke-width="2.6" stroke-linecap="butt"/>
<path d="M679 395 L667 392 M679 395 L664 396.5 M679 395 L669 407" fill="none" stroke="#3d4743" stroke-width="0.8"/>
<circle cx="666" cy="392" r="1.3" fill="none" stroke="#3d4743" stroke-width="0.7"/><circle cx="662.5" cy="396.5" r="1.3" fill="none" stroke="#3d4743" stroke-width="0.7"/><circle cx="668" cy="407.5" r="1.3" fill="none" stroke="#3d4743" stroke-width="0.7"/>
<path d="M761 405.5 Q791 375 829.5 374.2" fill="none" stroke="#56605b" stroke-width="4.2"/>
<path d="M761 405.5 Q791 375 829.5 374.2" fill="none" stroke="#fff" stroke-width="2.5"/>
<path d="M829 372.5 L836 370 M829.5 376 L840 377 M832 374 L838 373" fill="none" stroke="#3d4743" stroke-width="0.8"/>
<path d="M750 405 L758 401 L762 405 L760 411 L752 414 L746 410 Z" fill="#fff" stroke="#3d4743" stroke-width="0.8"/>
<path d="M746 410 l-3 1 M748 413 l-2 3 M752 414 l0 3" stroke="#3d4743" stroke-width="1"/>
<path d="M404.8 541.5 Q409 539 413.4 541.5 V552 H404.8 Z" fill="#fff" stroke="#3d4743" stroke-width="0.8"/>
<path d="M405 545 H413 M405 548 H413" stroke="#3d4743" stroke-width="0.7"/>
<path d="M401 552 H417 L417.5 560 Q409 566 400.5 560 Z" fill="#fff" stroke="#3d4743" stroke-width="0.8"/>
<path d="M400.5 556 Q409 561 417.5 556" fill="none" stroke="#3d4743" stroke-width="0.7"/>
<path d="M402.5 566 H414 V583 L411 585 H405.5 L402.5 583 Z" fill="#fff" stroke="#56605b" stroke-width="0.8"/>
<path d="M401 561 L398.5 563 L399 567 L403 568 M414 561 L418 563" fill="none" stroke="#3d4743" stroke-width="0.8"/>
<circle cx="400.8" cy="566.5" r="1.3" class="bk"/>
<ellipse cx="419.8" cy="571.8" rx="3.8" ry="4.6" fill="#fff" stroke="#3d4743" stroke-width="1"/><circle cx="419.8" cy="571.8" r="2" fill="none" stroke="#3d4743" stroke-width="0.6"/>
<path d="M406.2 585 V592 H410.3 V585 M406.2 588 H410.3" fill="none" stroke="#3d4743" stroke-width="0.7"/>
<path d="M424 552.5 L430 548.5 L432 551.5 L426 555.5 Z" fill="#fff" stroke="#3d4743" stroke-width="0.8"/>
<circle cx="422.5" cy="554" r="1.2" class="bk"/>
<path d="M773 592.5 L806 571.5" stroke="#141414" stroke-width="4.4" stroke-linecap="round"/><path d="M773.8 592 L805.2 572" stroke="#fff" stroke-width="1.8" stroke-linecap="round"/>
<circle cx="761.8" cy="597" r="1.9" class="bk"/>
<path d="M746.5 604 l2.5-1.5 l1.5 1.5 l-2.5 1.5z" class="bk" stroke-width="1"/>
<path d="M695.5 633.5 L702.5 629.5" stroke="#141414" stroke-width="6" stroke-linecap="round"/><path d="M695.7 633.3 L702.3 629.7" stroke="#fff" stroke-width="4" stroke-linecap="round"/>
<path d="M697.5 630.2 l1.8 3.2 M699.3 629.2 l1.8 3.2 M701 628.2 l1.8 3.2" stroke="#141414" stroke-width="1"/>
<path d="M702 627.5 L708 623 Q711.5 623 711 628 L710.5 630.5 L704 634.5 Q701.5 633 702 627.5 Z" fill="#fff" stroke="#141414" stroke-width="1.3"/>
<path d="M704 625.8 l2.6 6.5 M706.5 624.3 l2.6 6.5 M709 623.2 l1.8 5" stroke="#141414" stroke-width="0.8"/>
<path d="M703 633.5 V638.5 Q705.7 640 708.4 638.5 V632" fill="#fff" stroke="#141414" stroke-width="1.1"/><path d="M704.5 634 v4 M707 633.5 v4" stroke="#141414" stroke-width="0.7"/>
<path d="M714 634.5 L724.5 629 L724.5 623.5" fill="none" stroke="#7e8a85" stroke-width="0.8"/>
<path d="M649.2 620 L649.5 647 Q650.5 659 661 656.5 L684 642.5" fill="none" stroke="#6f7b76" stroke-width="7.8" stroke-linejoin="round"/>
<path d="M649.2 620 L649.5 647 Q650.5 659 661 656.5 L684 642.5" fill="none" stroke="#fff" stroke-width="6"/>
<path d="M649.2 620 L649.5 647 Q650.5 659 661 656.5 L684 642.5" fill="none" stroke="#98a39e" stroke-width="5.6" stroke-dasharray="0.7 1.5"/>
<ellipse cx="649.3" cy="618.5" rx="4.2" ry="2.6" fill="#fff" stroke="#56605b" stroke-width="1"/><path d="M645.2 618.5 V621.5 Q649.3 624 653.4 621.5 V618.5" fill="#fff" stroke="#56605b" stroke-width="0.9"/>
<path d="M679.5 640 L686 636 L688.8 641.5 L682.5 645.5 Z" fill="#fff" stroke="#56605b" stroke-width="0.9"/>
<ellipse cx="726" cy="618" rx="1.8" ry="2.8" transform="rotate(30 726 618)" fill="none" stroke="#141414" stroke-width="1.4"/>
<ellipse cx="736.2" cy="610.5" rx="2.2" ry="1.7" transform="rotate(-30 736.2 610.5)" fill="#333" stroke="#141414" stroke-width="1"/>
<path d="M446 621.5 Q436 618 430 619.5 Q404 625 402.5 655 Q403 676 420 685" fill="none" stroke="#56605b" stroke-width="0.9"/>
<path d="M437 622 Q410 630 406 656 Q407 673 421 682" fill="none" stroke="#7e8a85" stroke-width="0.7"/>
<path d="M420 685 L543.5 748.5" fill="none" stroke="#56605b" stroke-width="0.8"/>
<path d="M553 681 L571.5 695.5" fill="none" stroke="#56605b" stroke-width="0.8"/>
<ellipse cx="565.7" cy="726.8" rx="29.3" ry="30.3" fill="#fff" stroke="#56605b" stroke-width="0.9"/>
<ellipse cx="572.5" cy="730" rx="3" ry="3.2" fill="#fff" stroke="#3d4743" stroke-width="0.9"/><circle cx="572" cy="729" r="1.3" class="bk"/>
<circle cx="566" cy="697" r="0.9" class="bk"/>
<path d="M430 627 V632 Q433.5 634.5 437 632 V627" fill="#fff" stroke="#56605b" stroke-width="0.8"/>
<ellipse cx="433.5" cy="626.5" rx="3.3" ry="2.2" fill="#fff" stroke="#3d4743" stroke-width="1.2"/>
<path d="M425.2 640 L462.3 619.5 L553 671.2 L516.9 690.7 Z" fill="#fff" stroke="#56605b" stroke-width="0.9"/>
<path d="M425.2 640 V648.8 L516.9 704.3 V690.7 M516.9 704.3 L553 683.9 V671.2" fill="#fff" stroke="#56605b" stroke-width="0.9"/>
<path d="M425.2 648.8 L516.9 704.3 L553 683.9 L553 671.2 L516.9 690.7 L425.2 640 Z" fill="#fff"/>
<path d="M425.2 640 V648.8 L516.9 704.3 V690.7 Z M516.9 704.3 L553 683.9 V671.2 L516.9 690.7 Z" fill="none" stroke="#56605b" stroke-width="0.9"/>
<circle cx="425.5" cy="645" r="0.8" class="bk"/>
<path d="M521.8 697.5 L539.3 688.7 M522.8 701.4 L541.3 692.6" stroke="#141414" stroke-width="1.4"/>
<path d="M468 657.5 L492.5 642 L516 653.6 L488.6 670.2 Z" fill="none" stroke="#56605b" stroke-width="0.8"/>
<path d="M493.5 652 V657 Q497.4 660 501.3 657 V652" fill="#fff" stroke="#56605b" stroke-width="0.8"/><ellipse cx="497.4" cy="651.5" rx="3.6" ry="2.2" class="bk"/>
<path d="M453.5 626.5L463 623.5M431 640L441 636M463 658L471 654M487 644L495 641M494.5 668.5L503 672M512 658.5L520 663M533 670L541 674M516.5 680L524.5 684" stroke="#3d4743" stroke-width="1.1"/>
<path d="M558 679 L579 667.5 Q584 666 584.5 671 L583 694.5 M559.5 682.5 L578.5 672 Q580.8 671 581 674 L579.5 694" fill="none" stroke="#56605b" stroke-width="0.8"/>
<ellipse cx="558.5" cy="680.5" rx="1.4" ry="2" fill="#fff" stroke="#56605b" stroke-width="0.8"/>
<path d="M546.5 692 V698 H550.5 V692" fill="#fff" stroke="#56605b" stroke-width="0.7"/><ellipse cx="548.5" cy="691.5" rx="2" ry="1.6" class="bk"/>
<path d="M548.5 684 V690" class="ds"/>
<path d="M421.5 698 Q420 687 428 684 M428 697 Q427 690 433 687.5" fill="none" stroke="#56605b" stroke-width="0.7"/>
<path d="M432 694 L442 687.5" stroke="#141414" stroke-width="1.2"/><circle cx="436" cy="690" r="0.8" class="bk"/>
<path d="M412.5 708.5 L424.5 701" stroke="#141414" stroke-width="4.8" stroke-linecap="round"/><path d="M413 708 L424 701.5" stroke="#fff" stroke-width="2.6" stroke-linecap="round"/>
<ellipse cx="412.5" cy="708.5" rx="1.8" ry="2.2" fill="#fff" stroke="#141414" stroke-width="0.9"/>
<path d="M424 701 L432 696" stroke="#141414" stroke-width="0.9"/>
<ellipse cx="396.5" cy="718" rx="12" ry="14" transform="rotate(-12 396.5 718)" fill="#fff" stroke="#3d4743" stroke-width="1"/>
<ellipse cx="393.5" cy="719.5" rx="9" ry="11.5" transform="rotate(-12 393.5 719.5)" fill="none" stroke="#56605b" stroke-width="0.8"/>
<ellipse cx="393" cy="720" rx="4.5" ry="5.5" fill="none" stroke="#56605b" stroke-width="0.7"/>
<path d="M404 706 l2 2 M406.5 710 l2 1.5 M408 714.5 l2 1 M408.5 719 l2 0.5 M408 724 l2 0 M406.5 728.5 l2 -0.5" stroke="#3d4743" stroke-width="1"/>
<path d="M357 740.5 L394 719.5" stroke="#141414" stroke-width="1.7"/>
<ellipse cx="355.5" cy="741.5" rx="2.6" ry="1.9" transform="rotate(-30 355.5 741.5)" fill="#141414" stroke="#141414" stroke-width="1"/>
<path d="M370 730 Q373 727 376 730" fill="none" stroke="#7e8a85" stroke-width="0.6"/>
<path d="M382 737.5 L401 747.5 M364 748 L381 757.5" stroke="#3a4440" stroke-width="1.3"/>
<path d="M509 733.5 L513 731.5 L529 740 L526.5 744.5 L523 744.5 L508.5 736.5 Z" fill="#fff" stroke="#141414" stroke-width="1.5"/>
<path d="M529 740 L533 740" stroke="#141414" stroke-width="0.9"/>
<path d="M460.5 715 V734 M460.5 744 V759" class="lt"/>
<path d="M459 737 h3 v5 h-3z" fill="#fff" stroke="#141414" stroke-width="1"/><circle cx="460.5" cy="737.5" r="1" class="bk"/>
<ellipse cx="518" cy="751" rx="2" ry="1.6" class="bk"/><path d="M516.5 753 V756 H519.5 V753" fill="none" stroke="#3d4743" stroke-width="0.7"/>
<path d="M516 763.5 l2-1.5 l2 1.5 l-2 1z" class="bk"/>
<ellipse cx="518" cy="774.5" rx="2" ry="1.3" fill="none" stroke="#141414" stroke-width="1"/>
<ellipse cx="518" cy="786" rx="1.6" ry="1.5" class="bk"/><path d="M516.5 787 V790 H519.5 V787" fill="none" stroke="#3d4743" stroke-width="0.7"/>
<path d="M518 766 V771 M518 778 V783" class="lt"/>
<ellipse cx="517.5" cy="798.5" rx="6.5" ry="7" fill="#fff" stroke="#56605b" stroke-width="0.9"/>
<path d="M515 792.5 V799 Q517.5 803 520 799 V792.5" fill="none" stroke="#56605b" stroke-width="0.8"/>
<ellipse cx="599.8" cy="746.3" rx="3.5" ry="3.8" fill="#fff" stroke="#3d4743" stroke-width="1"/><circle cx="599.8" cy="746.3" r="1.5" fill="none" stroke="#56605b" stroke-width="0.6"/>
<path d="M674.5 764.5 L680.5 760.5" stroke="#3d4743" stroke-width="3.8" stroke-linecap="round"/><path d="M674.8 764.3 L680.2 760.7" stroke="#fff" stroke-width="2" stroke-linecap="round"/>
<path d="M689 757.5 L694.5 753" stroke="#3d4743" stroke-width="3.8" stroke-linecap="round"/><path d="M689.3 757.3 L694.2 753.2" stroke="#fff" stroke-width="2" stroke-linecap="round"/>
<path d="M681.5 760 L688.5 756" stroke="#9aa39f" stroke-width="2.4"/>
<circle cx="684.6" cy="754.3" r="1.2" class="bk"/><circle cx="696.3" cy="762" r="0.7" class="bk"/><path d="M690 758 L695.5 761.5" stroke="#56605b" stroke-width="0.6"/>
<path d="M408.2 592 L408.2 602.2 L433.5 616.7" class="lt"/>
<path d="M642 770 L653 777 L664 770" class="lt"/>
<path d="M584.5 245 L584.5 254 L505.5 299.5 L505.5 357" class="ds"/>
<path d="M681 334 L623.5 367 L623.5 416 L594 429" class="ds"/>
<path d="M564.5 472 L564.5 562.5 L497.5 597.5 L497.5 637.5" class="ds"/>
<path d="M443.75 440 L443.75 513.75 L474 531 L474 632" class="ds"/>
<path d="M727.5 517.5 L547.5 608.75 L547.5 692.5" class="ds"/>
<path d="M526 662 L526 627 L705 728.6 L705 643" class="ds"/>
<path d="M699 322 L787 274.5" class="ds"/>
<path d="M396 236 L396 367.5" class="ds"/>
<path d="M351.4 185.2 L367 185.2 L367 236.6 L380.3 231" class="ds"/>
<path d="M376 421 L415 401" class="ds"/>
</svg></body></html>
